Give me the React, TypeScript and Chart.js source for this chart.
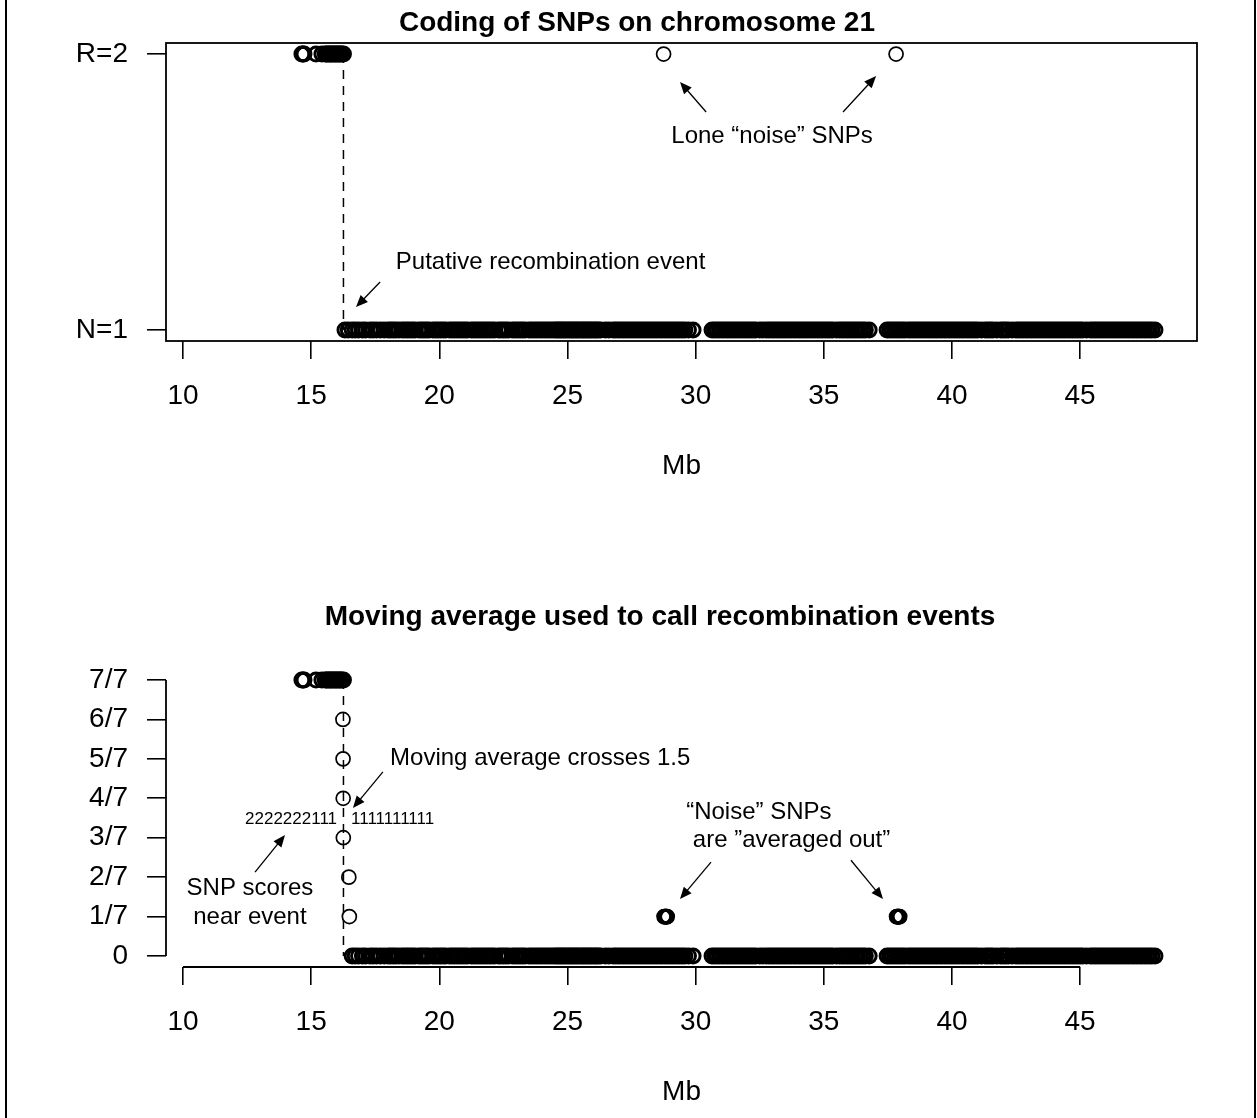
import React, { useEffect, useRef } from "react";
import { Chart, registerables } from "chart.js";
Chart.register(...registerables);

const FONT = "'Liberation Sans', Arial, Helvetica, sans-serif";

// ---- axis ticks ----
const xTicks = [10, 15, 20, 25, 30, 35, 40, 45];
const codeTicks = [1, 2];
const codeTickLabels = ["N=1", "R=2"];
const avgTicks = [0, 1 / 7, 2 / 7, 3 / 7, 4 / 7, 5 / 7, 6 / 7, 1];
const avgTickLabels = ["0", "1/7", "2/7", "3/7", "4/7", "5/7", "6/7", "7/7"];

// ---- data (Mb positions) ----
const eventMb = 16.26;
const snpR = [14.64, 14.68, 14.72, 15.19, 15.42, 15.55, 15.6, 15.65, 15.7, 15.75, 15.8, 15.85, 15.9, 15.95, 16.0, 16.05, 16.1, 16.15, 16.2, 16.26];
const snpN = [
  16.32, 16.45, 16.6, 16.72, 16.85, 17.0, 17.12, 17.3, 17.42, 17.55, 17.7, 17.85, 18.0, 18.1, 18.2, 18.3, 18.42, 18.55, 18.65, 18.75,
  18.85, 18.95, 19.05, 19.2, 19.3, 19.4, 19.5, 19.6, 19.75, 19.85, 19.95, 20.05, 20.15, 20.25, 20.4, 20.5, 20.6, 20.7, 20.8, 20.9,
  21.0, 21.1, 21.25, 21.35, 21.45, 21.55, 21.65, 21.75, 21.85, 21.95, 22.05, 22.15, 22.3, 22.4, 22.5, 22.6, 22.7, 22.85, 22.95, 23.05,
  23.15, 23.25, 23.35, 23.5, 23.6, 23.7, 23.8, 23.9, 24.0, 24.1, 24.2, 24.3, 24.4, 24.5, 24.57, 24.64, 24.71, 24.78, 24.85, 24.92,
  25.0, 25.07, 25.14, 25.21, 25.28, 25.35, 25.42, 25.5, 25.57, 25.64, 25.71, 25.78, 25.85, 25.92, 26.0, 26.07, 26.14, 26.21, 26.3, 26.48,
  26.62, 26.78, 26.88, 26.98, 27.08, 27.18, 27.28, 27.38, 27.48, 27.58, 27.68, 27.78, 27.88, 27.98, 28.08, 28.18, 28.28, 28.38, 28.48, 28.58,
  28.68, 28.78, 28.88, 28.98, 29.08, 29.18, 29.28, 29.38, 29.48, 29.58, 29.72, 29.9,
  30.64, 30.74, 30.84, 30.94, 31.04, 31.14, 31.24, 31.34, 31.44, 31.54, 31.64, 31.74, 31.84, 31.94, 32.04, 32.14, 32.24, 32.34, 32.5, 32.62,
  32.75, 32.85, 32.95, 33.05, 33.15, 33.25, 33.35, 33.45, 33.55, 33.65, 33.75, 33.85, 33.95, 34.05, 34.15, 34.25, 34.35, 34.45, 34.55, 34.65,
  34.75, 34.85, 34.95, 35.05, 35.15, 35.25, 35.35, 35.5, 35.62, 35.72, 35.82, 35.92, 36.02, 36.12, 36.22, 36.32, 36.42, 36.52, 36.62, 36.77,
  37.47, 37.57, 37.67, 37.77, 37.87, 37.97, 38.07, 38.17, 38.3, 38.4, 38.5, 38.6, 38.7, 38.8, 38.9, 39.0, 39.1, 39.2, 39.3, 39.4,
  39.5, 39.6, 39.7, 39.8, 39.9, 40.0, 40.1, 40.2, 40.3, 40.4, 40.5, 40.6, 40.7, 40.8, 40.9, 41.0, 41.15, 41.3, 41.4, 41.5,
  41.6, 41.75, 41.9, 42.0, 42.1, 42.2, 42.35, 42.5, 42.6, 42.7, 42.8, 42.9, 43.0, 43.1, 43.2, 43.3, 43.4, 43.5, 43.6, 43.7,
  43.8, 43.9, 44.0, 44.1, 44.2, 44.3, 44.4, 44.5, 44.6, 44.7, 44.8, 44.9, 45.0, 45.1, 45.25, 45.4, 45.5, 45.6, 45.7, 45.8,
  45.9, 46.0, 46.1, 46.2, 46.3, 46.4, 46.5, 46.6, 46.7, 46.8, 46.9, 47.0, 47.1, 47.2, 47.3, 47.4, 47.5, 47.6, 47.7, 47.8, 47.92,
];
const noiseSnp = [28.75, 37.82];

// moving average (window 7)
const avgTransX = [16.24, 16.245, 16.25, 16.255, 16.47, 16.49];
const avgTransY = [6 / 7, 5 / 7, 4 / 7, 3 / 7, 2 / 7, 1 / 7];
const avgNoiseX = [28.77, 28.79, 28.81, 28.83, 28.85, 28.87, 28.89, 37.84, 37.86, 37.88, 37.9, 37.92, 37.94, 37.96];
const avgZeroX = snpN.filter((v) => v > 16.5);

// ---- annotations (data coordinates) ----
const codeTexts = [
  { text: "Coding of SNPs on chromosome 21", x: 27.71, y: 2.111, size: 28, bold: true, align: "center" },
  { text: "Lone “noise” SNPs", x: 32.98, y: 1.703, size: 24, bold: false, align: "center" },
  { text: "Putative recombination event", x: 24.34, y: 1.246, size: 24, bold: false, align: "center" },
];
const codeArrows = [
  { x0: 30.41, y0: 1.79, x1: 29.39, y1: 1.899 },
  { x0: 35.75, y0: 1.79, x1: 37.04, y1: 1.92 },
  { x0: 17.69, y0: 1.174, x1: 16.75, y1: 1.083 },
];
const avgTexts = [
  { text: "Moving average used to call recombination events", x: 28.61, y: 1.228, size: 28, bold: true, align: "center" },
  { text: "Moving average crosses 1.5", x: 18.08, y: 0.717, size: 24, bold: false, align: "left" },
  { text: "2222222111", x: 16.01, y: 0.496, size: 17, bold: false, align: "right" },
  { text: "1111111111", x: 16.555, y: 0.496, size: 17, bold: false, align: "left" },
  { text: "SNP scores", x: 12.61, y: 0.246, size: 24, bold: false, align: "center" },
  { text: "near event", x: 12.61, y: 0.141, size: 24, bold: false, align: "center" },
  { text: "“Noise” SNPs", x: 29.63, y: 0.522, size: 24, bold: false, align: "left" },
  { text: " are ”averaged out”", x: 29.63, y: 0.42, size: 24, bold: false, align: "left" },
];
const avgArrows = [
  { x0: 17.8, y0: 0.667, x1: 16.63, y1: 0.536 },
  { x0: 12.81, y0: 0.304, x1: 13.98, y1: 0.438 },
  { x0: 30.6, y0: 0.34, x1: 29.39, y1: 0.206 },
  { x0: 36.06, y0: 0.347, x1: 37.31, y1: 0.206 },
];

type Txt = { text: string; x: number; y: number; size: number; bold: boolean; align: string };
type Arr = { x0: number; y0: number; x1: number; y1: number };

function makeOverlay(cfg: { box: boolean; dashFrom: number; dashTo: number; yAxisFrom: number; yAxisTo: number; texts: Txt[]; arrows: Arr[] }) {
  return {
    id: "overlay",
    beforeDatasetsDraw(chart: any) {
      const { ctx, chartArea } = chart;
      const xs = chart.scales.x;
      const ys = chart.scales.y;
      ctx.save();
      ctx.strokeStyle = "#000";
      ctx.lineWidth = 1.5;
      ctx.setLineDash([9, 7]);
      const ex = xs.getPixelForValue(eventMb);
      ctx.beginPath();
      ctx.moveTo(ex, ys.getPixelForValue(cfg.dashFrom));
      ctx.lineTo(ex, ys.getPixelForValue(cfg.dashTo));
      ctx.stroke();
      ctx.setLineDash([]);
      ctx.lineWidth = 1.8;
      if (cfg.box) {
        ctx.strokeRect(chartArea.left, chartArea.top, chartArea.right - chartArea.left, chartArea.bottom - chartArea.top);
      } else {
        ctx.beginPath();
        ctx.moveTo(xs.getPixelForValue(xTicks[0]), chartArea.bottom);
        ctx.lineTo(xs.getPixelForValue(xTicks[xTicks.length - 1]), chartArea.bottom);
        ctx.moveTo(chartArea.left, ys.getPixelForValue(cfg.yAxisFrom));
        ctx.lineTo(chartArea.left, ys.getPixelForValue(cfg.yAxisTo));
        ctx.stroke();
      }
      ctx.restore();
    },
    afterDatasetsDraw(chart: any) {
      const { ctx } = chart;
      const xs = chart.scales.x;
      const ys = chart.scales.y;
      ctx.save();
      ctx.fillStyle = "#000";
      ctx.strokeStyle = "#000";
      ctx.textBaseline = "middle";
      for (const t of cfg.texts) {
        ctx.font = `${t.bold ? "bold " : ""}${t.size}px ${FONT}`;
        ctx.textAlign = t.align;
        ctx.fillText(t.text, xs.getPixelForValue(t.x), ys.getPixelForValue(t.y));
      }
      ctx.lineWidth = 1.3;
      for (const a of cfg.arrows) {
        const x0 = xs.getPixelForValue(a.x0), y0 = ys.getPixelForValue(a.y0);
        const x1 = xs.getPixelForValue(a.x1), y1 = ys.getPixelForValue(a.y1);
        const ang = Math.atan2(y1 - y0, x1 - x0);
        const L = 13, w = 0.4;
        ctx.beginPath();
        ctx.moveTo(x0, y0);
        ctx.lineTo(x1 - Math.cos(ang) * L * 0.8, y1 - Math.sin(ang) * L * 0.8);
        ctx.stroke();
        ctx.beginPath();
        ctx.moveTo(x1, y1);
        ctx.lineTo(x1 - L * Math.cos(ang - w), y1 - L * Math.sin(ang - w));
        ctx.lineTo(x1 - L * Math.cos(ang + w), y1 - L * Math.sin(ang + w));
        ctx.closePath();
        ctx.fill();
      }
      ctx.restore();
    },
  };
}

function pts(xsArr: number[], y: number) {
  return xsArr.map((x) => ({ x, y }));
}

function ring(data: any[], radius: number, width: number) {
  return {
    data,
    pointStyle: "circle",
    pointRadius: radius,
    pointBorderWidth: width,
    borderWidth: width,
    borderColor: "#000",
    pointBorderColor: "#000",
    backgroundColor: "rgba(0,0,0,0)",
    pointBackgroundColor: "rgba(0,0,0,0)",
    showLine: false,
    clip: false,
  };
}

function baseOptions(yCfg: any, xAxisHeight: number, mbPad: number, padTop: number) {
  return {
    responsive: false,
    animation: false,
    devicePixelRatio: 1,
    events: [],
    layout: { padding: { left: 0, right: 60, top: padTop, bottom: 0 } },
    plugins: { legend: { display: false }, tooltip: { enabled: false }, title: { display: false } },
    scales: {
      x: {
        type: "linear",
        min: 9.337,
        max: 49.56,
        afterBuildTicks: (s: any) => {
          s.ticks = xTicks.map((v) => ({ value: v }));
        },
        ticks: {
          font: { family: FONT, size: 28 },
          color: "#000",
          padding: 20,
          maxRotation: 0,
          autoSkip: false,
          callback: (v: any) => String(v),
        },
        grid: { drawOnChartArea: false, drawTicks: true, tickLength: 18, color: "#000", lineWidth: 1.6 },
        border: { display: false },
        title: { display: true, text: "Mb", color: "#000", font: { family: FONT, size: 28 }, padding: { top: 0, bottom: mbPad } },
        afterFit: (s: any) => {
          s.height = xAxisHeight;
        },
      },
      y: yCfg,
    },
  };
}

function yAxis(min: number, max: number, ticks: number[], labels: string[]) {
  return {
    type: "linear",
    min,
    max,
    afterBuildTicks: (s: any) => {
      s.ticks = ticks.map((v) => ({ value: v }));
    },
    ticks: {
      font: { family: FONT, size: 28 },
      color: "#000",
      padding: 19,
      autoSkip: false,
      callback: (v: any, i: number) => labels[i],
    },
    grid: { drawOnChartArea: false, drawTicks: true, tickLength: 19, color: "#000", lineWidth: 1.6 },
    border: { display: false },
    afterFit: (s: any) => {
      s.width = 166;
    },
  };
}

export default function App() {
  const topRef = useRef<HTMLCanvasElement>(null);
  const botRef = useRef<HTMLCanvasElement>(null);

  useEffect(() => {
    const top = new Chart(topRef.current as HTMLCanvasElement, {
      type: "scatter",
      data: {
        datasets: [
          ring(pts(snpR, 2), 7, 3),
          ring(pts(snpN, 1), 7, 3),
          ring(pts(noiseSnp, 2), 7, 1.7),
        ],
      },
      options: baseOptions(yAxis(0.96, 2.04, codeTicks, codeTickLabels), 219, 77, 43) as any,
      plugins: [makeOverlay({ box: true, dashFrom: 2, dashTo: 1, yAxisFrom: 1, yAxisTo: 2, texts: codeTexts, arrows: codeArrows })],
    } as any);

    const bot = new Chart(botRef.current as HTMLCanvasElement, {
      type: "scatter",
      data: {
        datasets: [
          ring(pts(snpR, 1), 7, 3),
          ring(avgTransX.map((x, i) => ({ x, y: avgTransY[i] })), 7, 1.7),
          ring(pts(avgZeroX, 0), 7, 3),
          ring(pts(avgNoiseX, 1 / 7), 6.5, 2.8),
        ],
      },
      options: baseOptions(yAxis(-0.04, 1.04, avgTicks, avgTickLabels), 151, 9, 109) as any,
      plugins: [makeOverlay({ box: false, dashFrom: 1, dashTo: 0, yAxisFrom: 0, yAxisTo: 1, texts: avgTexts, arrows: avgArrows })],
    } as any);

    return () => {
      top.destroy();
      bot.destroy();
    };
  }, []);

  return (
    <div style={{ position: "absolute", left: 0, top: 0, width: 1257, height: 1118, background: "#fff", overflow: "hidden" }}>
      <div style={{ position: "absolute", left: 5, top: 0, width: 2, height: 1118, background: "#000" }} />
      <div style={{ position: "absolute", left: 1254, top: 0, width: 2, height: 1118, background: "#000" }} />
      <canvas ref={topRef} width={1257} height={560} style={{ position: "absolute", left: 0, top: 0 }} />
      <canvas ref={botRef} width={1257} height={558} style={{ position: "absolute", left: 0, top: 560 }} />
    </div>
  );
}
